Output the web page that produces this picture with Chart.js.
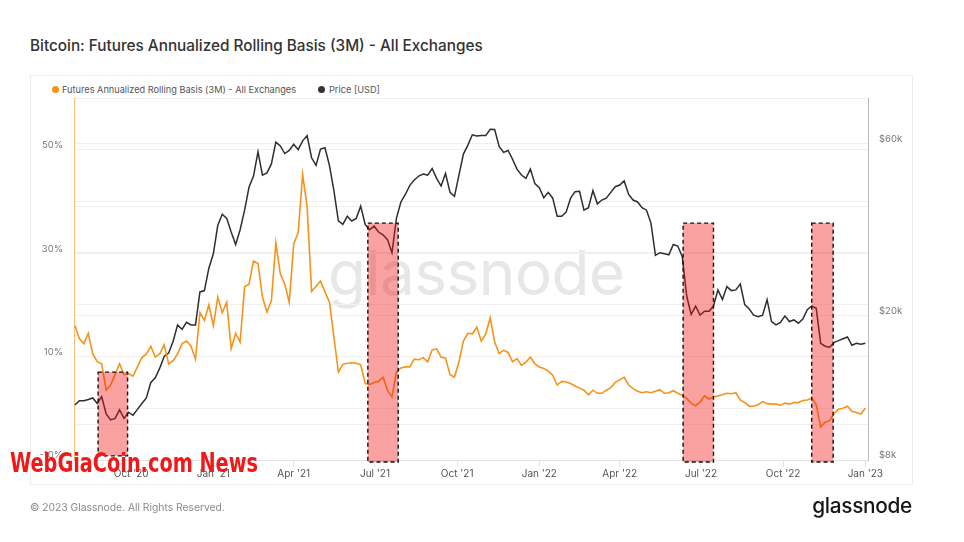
<!DOCTYPE html>
<html><head><meta charset="utf-8">
<script src="https://cdn.jsdelivr.net/npm/chart.js@4.4.0/dist/chart.umd.min.js"></script>
<style>
html,body{margin:0;padding:0;background:#fff;}
body{width:964px;height:542px;position:relative;overflow:hidden;font-family:Inter,"Noto Sans",sans-serif;}
.abs{position:absolute;white-space:nowrap;}
#title{left:30px;top:38px;font-size:15.3px;line-height:16px;font-weight:500;color:#333;}
#card{left:30px;top:75px;width:883px;height:410px;border:1px solid #ececec;box-sizing:border-box;}
.leg{top:84px;font-size:9.2px;line-height:11px;color:#555;}
.dot{width:7px;height:7px;border-radius:50%;top:86px;}
#wm{left:328px;top:242px;font-size:62px;line-height:62px;color:#e7e7e7;font-weight:400;letter-spacing:-0.5px;}
#copy{left:30px;top:502px;font-size:10.3px;line-height:11px;color:#8a8a8a;}
#logo{right:52px;top:495px;font-size:20.8px;line-height:22px;color:#161616;font-weight:500;letter-spacing:-0.3px;}
#webgia{left:10px;top:449px;font-family:"DejaVu Sans Condensed","DejaVu Sans",sans-serif;font-weight:bold;font-size:27px;line-height:27px;color:#f01818;transform-origin:0 0;}
canvas{position:absolute;left:0;top:0;}
</style></head>
<body>
<div id="title" class="abs">Bitcoin: Futures Annualized Rolling Basis (3M) - All Exchanges</div>
<div id="card" class="abs"></div>
<div class="abs dot" style="left:52px;background:#f7931a"></div>
<div class="abs leg" style="left:62px">Futures Annualized Rolling Basis (3M) - All Exchanges</div>
<div class="abs dot" style="left:318px;background:#333"></div>
<div class="abs leg" style="left:329px">Price [USD]</div>
<div id="wm" class="abs">glassnode</div>
<canvas id="c" width="964" height="542"></canvas>
<div id="copy" class="abs">© 2023 Glassnode. All Rights Reserved.</div>
<div id="logo" class="abs">glassnode</div>
<div id="webgia" class="abs">WebGiaCoin.com News</div>
<script>
const dates = [
'2020-07-30','2020-08-04','2020-08-09','2020-08-14','2020-08-19','2020-08-24','2020-08-29','2020-09-03','2020-09-08','2020-09-13',
'2020-09-18','2020-09-23','2020-09-28','2020-10-03','2020-10-08','2020-10-13','2020-10-18','2020-10-23','2020-10-28','2020-11-02',
'2020-11-07','2020-11-12','2020-11-17','2020-11-22','2020-11-27','2020-12-02','2020-12-07','2020-12-12','2020-12-17','2020-12-22',
'2020-12-27',
'2021-01-01','2021-01-06','2021-01-11','2021-01-16','2021-01-21','2021-01-26','2021-01-31','2021-02-05','2021-02-10','2021-02-15',
'2021-02-20','2021-02-25','2021-03-02','2021-03-07','2021-03-12','2021-03-17','2021-03-22','2021-03-27','2021-04-01','2021-04-06',
'2021-04-11','2021-04-16','2021-04-21','2021-04-26','2021-05-01','2021-05-06','2021-05-11','2021-05-16','2021-05-21','2021-05-26',
'2021-05-31','2021-06-05','2021-06-10','2021-06-15','2021-06-20','2021-06-25','2021-06-30','2021-07-05','2021-07-10','2021-07-15',
'2021-07-20','2021-07-25','2021-07-30','2021-08-04','2021-08-09','2021-08-14','2021-08-19','2021-08-24','2021-08-29','2021-09-03',
'2021-09-08','2021-09-13','2021-09-18','2021-09-23','2021-09-28','2021-10-03','2021-10-08','2021-10-13','2021-10-18','2021-10-23',
'2021-10-28','2021-11-02','2021-11-07','2021-11-12','2021-11-17','2021-11-22','2021-11-27','2021-12-02','2021-12-07','2021-12-12',
'2021-12-17','2021-12-22','2021-12-27',
'2022-01-01','2022-01-06','2022-01-11','2022-01-16','2022-01-21','2022-01-26','2022-01-31','2022-02-05','2022-02-10','2022-02-15',
'2022-02-20','2022-02-25','2022-03-02','2022-03-07','2022-03-12','2022-03-17','2022-03-22','2022-03-27','2022-04-01','2022-04-06',
'2022-04-11','2022-04-16','2022-04-21','2022-04-26','2022-05-01','2022-05-06','2022-05-11','2022-05-16','2022-05-21','2022-05-26',
'2022-05-31','2022-06-05','2022-06-10','2022-06-15','2022-06-20','2022-06-25','2022-06-30','2022-07-05','2022-07-10','2022-07-15',
'2022-07-20','2022-07-25','2022-07-30','2022-08-04','2022-08-09','2022-08-14','2022-08-19','2022-08-24','2022-08-29','2022-09-03',
'2022-09-08','2022-09-13','2022-09-18','2022-09-23','2022-09-28','2022-10-03','2022-10-08','2022-10-13','2022-10-18','2022-10-23',
'2022-10-28','2022-11-02','2022-11-07','2022-11-12','2022-11-17','2022-11-22','2022-11-27','2022-12-02','2022-12-07','2022-12-12',
'2022-12-17','2022-12-22','2022-12-27',
'2023-01-01'
];
// Futures annualized rolling basis (3M), %
const basis = [
16.0,13.5,12.5,14.5,10.5,9.0,8.6,3.5,4.5,6.5,
8.6,6.5,6.7,6.2,8.0,9.8,10.5,12.0,9.9,10.5,
12.3,8.6,9.2,10.5,12.5,13.0,12.0,9.5,18.5,17.0,
20.0,16.0,21.5,18.5,20.5,11.5,14.5,12.8,23.5,24.0,
28.5,28.0,21.5,18.6,20.8,32.0,26.0,24.0,20.5,31.8,
34.0,45.2,39.0,22.6,23.6,24.6,22.5,20.5,13.8,7.0,
8.5,8.7,8.8,8.7,8.4,4.8,4.6,5.0,5.2,6.0,
3.5,2.2,7.0,7.8,8.0,8.0,9.5,9.4,9.8,9.0,
11.3,11.5,9.9,9.7,6.5,6.0,9.0,13.0,14.5,14.4,
15.7,13.0,14.4,17.5,12.8,10.6,11.2,10.8,9.0,9.6,
8.3,8.9,9.9,8.6,8.0,7.7,7.2,6.4,4.5,5.2,
5.1,4.8,4.3,3.9,3.5,2.6,3.5,2.9,2.9,3.5,
4.0,5.0,5.5,6.0,4.5,3.8,3.3,3.0,3.2,3.0,
3.3,3.6,2.9,3.0,3.4,2.9,2.5,1.9,1.0,0.5,
1.2,2.4,1.8,2.2,2.4,2.6,2.9,2.8,3.0,1.6,
1.1,0.4,0.4,0.7,1.3,0.9,0.8,0.8,0.6,1.0,
0.8,1.1,1.1,1.5,1.6,2.0,0.7,-3.6,-2.7,-2.4,
-1.0,-0.2,0.0,0.4,-0.6,-0.8,-1.1,0.0
];
// BTC price, thousands of USD
const priceK = [
11.35,11.66,11.66,11.76,11.87,11.46,11.97,10.73,10.32,10.42,
11.0,10.42,10.84,10.63,11.04,11.46,11.87,13.1,13.5,14.35,
15.48,15.79,17.03,18.89,18.37,19.2,18.89,18.89,23.3,23.5,
27.1,29.7,35.6,38.2,37.2,34.1,31.5,34.6,39.2,45.4,
48.7,56.8,49.0,49.7,52.6,60.4,59.0,56.2,57.3,59.6,
57.6,60.9,63.0,54.7,52.1,57.8,58.3,52.1,44.4,36.6,
35.8,37.7,36.6,37.2,40.2,35.8,34.6,35.4,34.1,33.5,
32.5,29.9,37.2,41.3,43.3,45.9,47.5,48.7,49.3,49.0,
51.1,48.0,45.7,49.5,43.9,42.8,49.0,56.0,59.3,63.3,
62.8,63.0,63.0,65.6,65.5,58.8,56.6,57.3,54.2,50.9,
49.0,48.0,50.9,46.4,45.2,42.4,43.9,42.3,37.7,37.7,
38.7,42.3,44.1,44.2,39.2,39.8,44.4,40.8,41.8,42.3,
43.9,45.5,46.0,47.2,43.3,41.8,41.3,39.8,39.2,36.1,
29.4,29.9,29.7,29.5,31.5,31.2,29.2,22.7,20.2,21.3,
20.1,20.6,20.6,21.3,23.6,22.2,24.1,23.5,23.6,24.5,
21.5,20.9,20.1,19.9,20.1,22.2,19.3,18.9,19.2,20.0,
19.3,19.5,19.1,19.6,20.8,21.3,21.0,16.8,16.5,16.4,
16.9,17.1,17.3,17.5,16.6,16.8,16.7,16.8
];
const xTickDates = ['2020-10-01','2021-01-01','2021-04-01','2021-07-01','2021-10-01','2022-01-01','2022-04-01','2022-07-01','2022-10-01','2023-01-01'];
const xTickLabels = ["Oct '20","Jan '21","Apr '21","Jul '21","Oct '21","Jan '22","Apr '22","Jul '22","Oct '22","Jan '23"];
const leftTicks = [-10,0,10,20,30,40,50,60];
const leftLabelValues = [-10,10,30,50];
const leftLabels = ['-10%','10%','30%','50%'];
const rightTicks = [8,10,20,30,40,60,80];
const rightLabelValues = [8,20,60];
const rightLabels = ['$8k','$20k','$60k'];
const xRange = ['2020-07-29','2023-01-04'];
// highlighted periods (dates) with their vertical extent in basis-% units
const boxFrom = ['2020-08-25','2021-06-23','2022-06-11','2022-11-02'];
const boxTo   = ['2020-09-27','2021-07-27','2022-07-15','2022-11-26'];
const boxTop  = [7.0, 35.8, 35.8, 35.8];
const boxBottom = [-9.2, -10.4, -10.4, -10.4];

const day = s => Date.parse(s + 'T00:00:00Z') / 86400000;

(function(){const el=document.getElementById('webgia');const w=el.getBoundingClientRect().width;el.style.transform='scaleX('+(248/w)+')';})();

const boxPlugin = {
  id: 'boxes',
  afterDatasetsDraw(chart) {
    const {ctx, scales} = chart;
    const x = scales.x, y = scales.y;
    ctx.save();
    for (let i = 0; i < boxFrom.length; i++) {
      const x1 = x.getPixelForValue(day(boxFrom[i])), x2 = x.getPixelForValue(day(boxTo[i]));
      const y1 = y.getPixelForValue(boxTop[i]), y2 = y.getPixelForValue(boxBottom[i]);
      ctx.fillStyle = 'rgba(242,20,20,0.4)';
      ctx.fillRect(x1, y1, x2 - x1, y2 - y1);
      ctx.setLineDash([4, 3]);
      ctx.lineWidth = 1.4;
      ctx.strokeStyle = '#111';
      ctx.strokeRect(x1, y1, x2 - x1, y2 - y1);
    }
    ctx.restore();
  }
};

const tickFont = {family: 'Inter', size: 9.5};
new Chart(document.getElementById('c'), {
  type: 'line',
  data: {
    datasets: [
      {label: 'Futures Annualized Rolling Basis (3M) - All Exchanges', yAxisID: 'y',
       data: dates.map((d, i) => ({x: day(d), y: basis[i]})),
       borderColor: '#f7931a', borderWidth: 1.6, pointRadius: 0, tension: 0},
      {label: 'Price [USD]', yAxisID: 'y1',
       data: dates.map((d, i) => ({x: day(d), y: priceK[i]})),
       borderColor: '#2e2e2e', borderWidth: 1.5, pointRadius: 0, tension: 0}
    ]
  },
  options: {
    responsive: false, animation: false, devicePixelRatio: 1,
    layout: {padding: {left: 30, right: 50, top: 98, bottom: 62}},
    plugins: {legend: {display: false}, tooltip: {enabled: false}},
    scales: {
      x: {
        type: 'linear', position: 'bottom', min: day(xRange[0]), max: day(xRange[1]),
        afterBuildTicks: s => { s.ticks = xTickDates.map(d => ({value: day(d)})); },
        afterFit: s => { s.height = 20; },
        ticks: {autoSkip: false, maxRotation: 0, padding: 1, color: '#555', font: {family: 'Inter', size: 10},
          callback: v => { const k = xTickDates.findIndex(d => day(d) === v); return k >= 0 ? xTickLabels[k] : ''; }},
        grid: {drawOnChartArea: false, drawTicks: true, tickLength: 7, color: '#e6e6e6'},
        border: {display: true, color: '#e2e2e2'}
      },
      y: {
        type: 'linear', position: 'left', min: -10, max: 60,
        afterBuildTicks: s => { s.ticks = leftTicks.map(v => ({value: v})); },
        afterFit: s => { s.width = 44; },
        ticks: {padding: 11, labelOffset: -4.5, color: '#777', font: tickFont,
          callback: v => { const k = leftLabelValues.indexOf(v); return k >= 0 ? leftLabels[k] : ''; }},
        grid: {color: '#f0f0f0', drawTicks: false},
        border: {display: true, color: 'rgba(247,147,26,0.6)'}
      },
      y1: {
        type: 'logarithmic', position: 'right', min: 8, max: 80,
        afterBuildTicks: s => { s.ticks = rightTicks.map(v => ({value: v})); },
        afterFit: s => { s.width = 46; },
        ticks: {padding: 11, labelOffset: -4.5, color: '#777', font: tickFont,
          callback: v => { const k = rightLabelValues.indexOf(v); return k >= 0 ? rightLabels[k] : ''; }},
        grid: {color: '#f0f0f0', drawTicks: false},
        border: {display: true, color: '#bcbcbc'}
      }
    }
  },
  plugins: [boxPlugin]
});
</script>
</body></html>
